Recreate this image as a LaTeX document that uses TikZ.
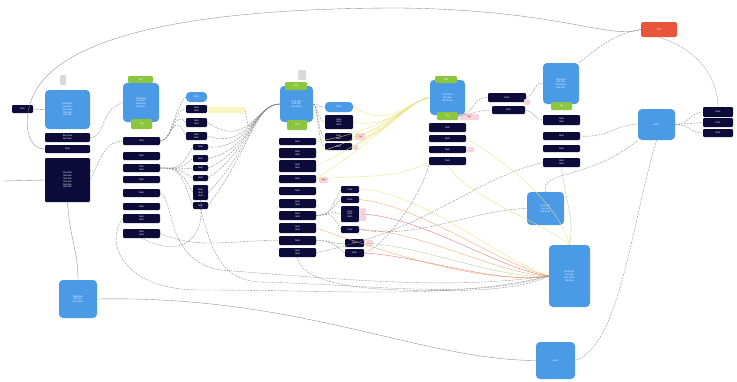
\documentclass[tikz,border=0pt]{standalone}
\usepackage{fontspec}
\setmainfont{Liberation Sans}
\definecolor{navy}{HTML}{0D0B3A}
\definecolor{mblue}{HTML}{4A9AE6}
\definecolor{mgreen}{HTML}{8CC63F}
\definecolor{mred}{HTML}{E8553A}
\definecolor{mpink}{HTML}{F6D3DE}
\definecolor{myel}{HTML}{FAF5C0}
\definecolor{lgray}{HTML}{8A8A8A}
\definecolor{cyel}{HTML}{EDE37A}
\definecolor{corg}{HTML}{F0A860}
\definecolor{cgrn}{HTML}{A8D08D}
\definecolor{cred}{HTML}{E07070}
\tikzset{
 box/.style={rounded corners=1.2pt, inner sep=0pt, text=white, font=\fontsize{2.4}{2.8}\selectfont, align=center},
 dk/.style={box, fill=navy},
 bl/.style={box, fill=mblue, rounded corners=4pt},
 gr/.style={box, fill=mgreen},
 rd/.style={box, fill=mred, rounded corners=2pt},
 pk/.style={box, fill=mpink, text=red!60!black},
 ic/.style={box, fill=gray!30},
 ye/.style={box, fill=myel, rounded corners=0pt},
 conn/.style={draw=lgray, line width=0.35pt, dash pattern=on 2pt off 1pt},
 solid conn/.style={draw=lgray, line width=0.35pt},
 ycon/.style={draw=cyel, line width=0.35pt},
 ocon/.style={draw=corg, line width=0.35pt},
 gcon/.style={draw=cgrn, line width=0.35pt},
 rcon/.style={draw=cred, line width=0.35pt},
}
\newcommand\bx[7]{\node[#1, minimum width={#5-#3}, minimum height={#6-#4}] (#2) at ({(#3+#5)/2},{(#4+#6)/2}) {#7};}
\begin{document}
\begin{tikzpicture}[x=1pt,y=-1pt]
\useasboundingbox (0,0) rectangle (737,381);
\fill[white] (0,0) rectangle (737,381);
% ---------- left column
\bx{dk}{lsm}{12}{105}{33}{113}{Item}
\bx{ic}{licon}{60}{75}{66}{85}{}
\bx{bl}{lb1}{45}{90}{90}{129}{Note text\\line two\\line three\\line four\\line five}
\bx{dk}{ld1}{45}{133}{90}{142}{Item one\\item two}
\bx{dk}{ld2}{45}{145}{90}{153}{Item}
\bx{dk}{ld3}{45}{158}{90}{202}{Text line\\text line\\text line\\text line\\text line\\text line}
\bx{bl}{lb2}{59}{280}{97}{318}{Note text\\line two\\line three}
\coordinate (lin) at (3,181);
% ---------- column 2
\bx{gr}{c2h}{128}{76}{153}{83}{Title}
\bx{bl}{c2b}{123}{83}{159}{122}{Note text\\line two\\line three\\line four}
\bx{gr}{c2f}{131}{119}{152}{129}{Tag}
\bx{dk}{c2d1}{123}{137}{160}{145}{Item}
\bx{dk}{c2d2}{123}{152}{160}{160}{Item}
\bx{dk}{c2d3}{123}{164}{160}{172}{Item\\item}
\bx{dk}{c2d4}{123}{176}{160}{183}{Item}
\bx{dk}{c2d5}{123}{189}{160}{197}{Item}
\bx{dk}{c2d6}{123}{203}{160}{210}{Item}
\bx{dk}{c2d7}{123}{214}{160}{223}{Item\\item}
\bx{dk}{c2d8}{123}{229}{160}{238}{Item\\item}
% ---------- column 3
\bx{bl}{c3b}{186}{92}{207}{102}{Note}
\bx{dk}{c3d1}{186}{105}{207}{113}{Item\\item}
\bx{dk}{c3d2}{186}{118}{207}{127}{Item\\item}
\bx{dk}{c3d3}{186}{132}{207}{140}{Item\\item}
\bx{ye}{yst}{208}{107}{245}{113}{}
\bx{dk}{c3e1}{193}{144}{208}{150}{Item}
\bx{dk}{c3e2}{193}{155}{208}{162}{Item}
\bx{dk}{c3e3}{193}{165}{208}{171}{Item}
\bx{dk}{c3e4}{193}{175}{208}{181}{Item}
\bx{dk}{c3e5}{193}{185}{208}{200}{Item\\item\\item}
\bx{dk}{c3e6}{193}{202}{208}{209}{Item}
% ---------- center
\bx{ic}{cicon}{298}{70}{306}{80}{}
\bx{bl}{c4b}{280}{86}{313}{122}{Note text\\line two\\line three}
\bx{gr}{c4h}{285}{82}{307}{90}{Title}
\bx{gr}{c4f}{287}{120}{307}{130}{Tag}
\bx{bl}{c4r}{325}{102}{353}{112}{Note}
\bx{dk}{c4r1}{325}{115}{353}{129}{Item\\item\\item}
\bx{dk}{c4r2}{325}{133}{352}{141}{Item\\item}
\bx{dk}{c4r3}{325}{143}{352}{150}{Item}
\bx{pk}{p1}{355}{133}{365}{140}{tag}
\bx{pk}{p2}{353}{145}{358}{150}{}
\bx{dk}{m1}{279}{138}{316}{145}{Item}
\bx{dk}{m2}{279}{148}{316}{158}{Item\\item}
\bx{dk}{m3}{279}{160}{316}{172}{Item\\item}
\bx{dk}{m4}{279}{175}{316}{183}{Item}
\bx{dk}{m5}{279}{187}{316}{195}{Item}
\bx{dk}{m6}{279}{199}{316}{208}{Item\\item}
\bx{dk}{m7}{279}{211}{316}{220}{Item\\item}
\bx{dk}{m8}{279}{223}{316}{233}{Item\\item}
\bx{dk}{m9}{279}{236}{316}{245}{Item}
\bx{dk}{m10}{279}{248}{316}{257}{Item\\item}
\bx{pk}{p3}{319}{177}{328}{183}{tag}
\bx{dk}{s1}{341}{186}{359}{193}{Item}
\bx{dk}{s2}{341}{196}{359}{203}{Item}
\bx{dk}{s3}{341}{206}{359}{222}{Item\\item\\item}
\bx{dk}{s4}{341}{226}{359}{233}{Item}
\bx{dk}{s5}{345}{239}{364}{247}{Item}
\bx{dk}{s6}{345}{249}{364}{257}{Item}
\bx{pk}{p4}{360}{208}{366}{214}{}
\bx{pk}{p5}{360}{215}{366}{221}{}
\bx{pk}{p6}{366}{240}{373}{246}{}
% ---------- right-center
\bx{bl}{rb}{430}{80}{465}{115}{Note text\\line two\\line three}
\bx{gr}{rh}{435}{76}{457}{83}{Title}
\bx{gr}{rf}{437}{112}{458}{120}{Tag}
\bx{pk}{p7}{459}{114}{479}{120}{tag}
\bx{dk}{rd1}{429}{123}{466}{132}{Item}
\bx{dk}{rd2}{429}{135}{466}{142}{Item}
\bx{dk}{rd3}{429}{146}{466}{153}{Item}
\bx{dk}{rd4}{429}{157}{466}{165}{Item}
\bx{pk}{p8}{467}{147}{474}{152}{}
\bx{dk}{rr1}{488}{93}{526}{102}{Item}
\bx{dk}{rr2}{492}{106}{525}{114}{Item}
\bx{pk}{p9}{524}{99}{530}{105}{}
% ---------- right column
\bx{bl}{kb}{543}{63}{579}{104}{Note text\\line two\\line three\\line four}
\bx{gr}{kf}{551}{102}{572}{110}{Tag}
\bx{dk}{kd1}{543}{115}{580}{125}{Item\\item}
\bx{dk}{kd2}{543}{132}{580}{140}{Item}
\bx{dk}{kd3}{543}{145}{580}{152}{Item}
\bx{dk}{kd4}{543}{158}{580}{167}{Item\\item}
% ---------- far right
\bx{rd}{red}{641}{22}{677}{37}{Title}
\bx{bl}{fb}{638}{109}{675}{140}{Note}
\bx{dk}{fd1}{703}{107}{733}{117}{Item}
\bx{dk}{fd2}{703}{118}{733}{127}{Item}
\bx{dk}{fd3}{703}{129}{733}{137}{Item}
% ---------- lower right
\bx{bl}{lb3}{527}{192}{564}{225}{Note text\\line two\\line three}
\bx{bl}{lb4}{549}{245}{590}{307}{Note text\\line two\\line three\\line four}
\bx{bl}{lb5}{536}{342}{575}{379}{Note}
% ================= connectors
\draw[solid conn] (lsm.east) -- (lb1.west);
\draw[solid conn] (lin) -- (ld3.west);
\draw[solid conn] (ld3.south) .. controls (70,240) and (78,250) .. (lb2.north);
\draw[solid conn] (lb2.east) .. controls (300,295) and (420,360) .. (lb5.west);
\draw[solid conn] (ld2.west) .. controls (25,149) and (22,115) .. (35,92) .. controls (60,45) and (160,8) .. (400,8) .. controls (560,10) and (610,40) .. (red.west);
\draw[conn] (kb.north east) .. controls (600,45) and (620,32) .. (red.west);
\draw[conn] (red.south) .. controls (700,50) and (718,80) .. (fd1.north);
\draw[conn] (fb.east) .. controls (690,124) and (690,112) .. (fd1.west);
\draw[conn] (fb.east) -- (fd2.west);
\draw[conn] (fb.east) .. controls (690,124) and (690,133) .. (fd3.west);
\draw[conn] (kd2.east) .. controls (610,138) and (615,124) .. (fb.west);
\draw[conn] (fb.south) .. controls (630,230) and (620,345) .. (lb5.east);
% left to col2
\draw[conn] (ld1.east) .. controls (105,138) and (100,110) .. (c2b.west);
\draw[conn] (c2d1.west) .. controls (105,141) and (100,160) .. (ld3.east);
% col2 to col3
\foreach \t in {c3b,c3d1,c3d2,c3d3}{\draw[conn] (c2d1.east) .. controls (172,141) and (174,108) .. (\t.west);}
\foreach \t in {c3e1,c3e2,c3e3,c3e4,c3e5,c3e6}{\draw[conn] (c2d3.east) .. controls (178,168) and (180,170) .. (\t.west);}
% col3 to center
\foreach \s in {yst,c3d2,c3d3,c3e1,c3e2,c3e3,c3e4,c3e5,c3e6}{\draw[conn] (\s.east) .. controls (250,150) and (255,104) .. (c4b.west);}
% center blue to right boxes
\draw[conn] (c4b.east) .. controls (318,104) and (318,107) .. (c4r.west);
\draw[conn] (c4b.east) .. controls (318,104) and (318,122) .. (c4r1.west);
\draw[conn] (c4b.east) .. controls (318,104) and (318,137) .. (c4r2.west);
\draw[conn] (c4b.east) .. controls (318,104) and (318,147) .. (c4r3.west);
% center column to small boxes
\foreach \t in {s1,s2,s3,s4}{\draw[conn] (m7.east) .. controls (330,215) and (330,210) .. (\t.west);}
\foreach \t in {s5,s6}{\draw[conn] (m9.east) .. controls (330,240) and (335,245) .. (\t.west);}
% yellow fan to right-center blue
\foreach \s in {c4r,c4r1,c4r2,c4r3,p1,m4,m3,m2,m1}{\draw[ycon] (\s.east) .. controls (390,130) and (410,100) .. (rb.west);}
\draw[ycon] (m4.east) .. controls (360,175) and (400,180) .. (rd4.west);
% colored lines to lb4
\draw[ycon] (s1.east) .. controls (420,190) and (500,260) .. (lb4.west);
\draw[ocon] (s2.east) .. controls (420,205) and (500,265) .. (lb4.west);
\draw[rcon] (s3.east) .. controls (420,215) and (500,270) .. (lb4.west);
\draw[ocon] (s4.east) .. controls (420,230) and (500,275) .. (lb4.west);
\draw[gcon] (s5.east) .. controls (420,245) and (500,280) .. (lb4.west);
\draw[rcon] (s6.east) .. controls (420,256) and (500,285) .. (lb4.west);
\draw[ocon] (m8.east) .. controls (380,250) and (480,285) .. (lb4.west);
\draw[ycon] (rd4.south) .. controls (470,200) and (540,220) .. (lb4.north);
\draw[gcon] (kd4.south) .. controls (565,200) and (575,220) .. (lb4.north);
\draw[ycon] (rd2.east) .. controls (520,170) and (560,210) .. (lb4.north);
% right-center to rr
\draw[conn] (rf.east) .. controls (480,110) and (470,98) .. (rr1.west);
\draw[conn] (rf.east) .. controls (480,112) and (480,110) .. (rr2.west);
\draw[conn] (rr1.east) .. controls (535,95) and (535,80) .. (kb.west);
\draw[conn] (rr2.east) .. controls (535,112) and (535,120) .. (kd1.west);
% long curves lower
\draw[conn] (rd4.south west) .. controls (420,200) and (380,250) .. (s6.east);
\draw[conn] (kd4.west) .. controls (470,180) and (430,230) .. (m10.east);
\draw[conn] (lb3.west) .. controls (470,210) and (420,240) .. (s4.east);
\draw[conn] (lb3.north) .. controls (540,170) and (590,180) .. (fb.south west);
\draw[conn] (c2d7.west) .. controls (105,240) and (120,290) .. (200,290) .. controls (350,290) and (450,300) .. (lb4.west);
\draw[conn] (c2d5.east) .. controls (175,200) and (165,260) .. (220,270) .. controls (350,280) and (450,290) .. (lb4.west);
\draw[conn] (c2d8.east) .. controls (200,250) and (230,240) .. (m9.west);
\draw[conn] (c3e5.south) .. controls (205,230) and (190,262) .. (c2d8.south);
\draw[conn] (c3e6.south) .. controls (212,250) and (220,280) .. (260,282) .. controls (380,285) and (470,300) .. (lb4.west);
\draw[conn] (m10.south) .. controls (300,275) and (330,288) .. (400,290) .. controls (470,292) and (520,290) .. (lb4.west);
\end{tikzpicture}
\end{document}
